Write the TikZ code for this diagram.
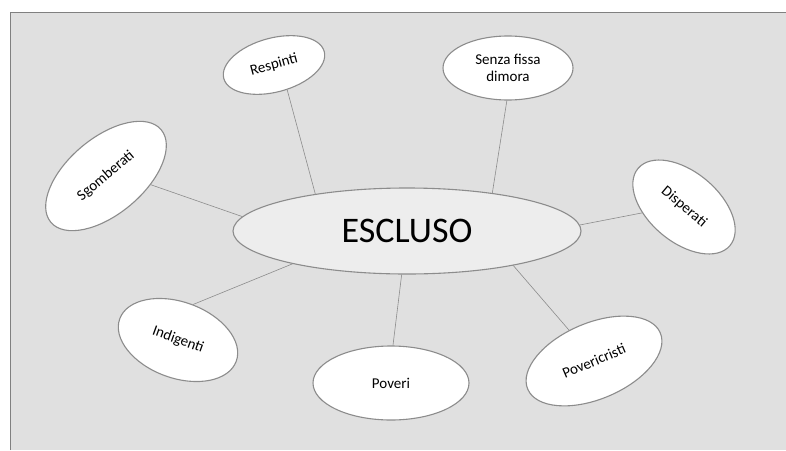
\documentclass[tikz,border=0pt]{standalone}
\usepackage{fontspec}
\setmainfont{Carlito}
\usetikzlibrary{shapes.geometric}
\tikzstyle{base} = [ellipse, draw=black!45, line width=1.1pt, inner sep=0pt, text centered, align=center, text=black]
\tikzstyle{hub} = [base, fill=black!7, minimum width=348pt, minimum height=86pt, font=\fontsize{36}{40}\selectfont]
\tikzstyle{leaf} = [base, fill=white, font=\fontsize{15}{17}\selectfont]
\tikzstyle{link} = [draw=black!45, line width=0.6pt]
\begin{document}
\begin{tikzpicture}[x=1pt, y=-1pt]

\useasboundingbox (0,0) rectangle (786,450);
\fill [black!12] (10,12) rectangle (786,450);
\draw [black!50, line width=1pt] (10,450) -- (10,12) -- (786,12);

\node (ESCLUSO) [hub] at (407,231) {ESCLUSO};
\node (RESPINTI) [leaf, minimum width=104pt, minimum height=54pt, rotate=15] at (274,65) {Respinti};
\node (SENZA_FISSA_DIMORA) [leaf, minimum width=130pt, minimum height=64pt] at (508,68) {Senza fissa\\dimora};
\node (SGOMBERATI) [leaf, minimum width=144pt, minimum height=76pt, rotate=40] at (106,176) {Sgomberati};
\node (DISPERATI) [leaf, minimum width=120pt, minimum height=70pt, rotate=-40] at (684,207) {Disperati};
\node (INDIGENTI) [leaf, minimum width=124pt, minimum height=76pt, rotate=-20] at (178,340) {Indigenti};
\node (POVERI) [leaf, minimum width=156pt, minimum height=74pt] at (391,383) {Poveri};
\node (POVERICRISTI) [leaf, minimum width=144pt, minimum height=76pt, rotate=23] at (594,361) {Povericristi};

\draw [link] (ESCLUSO.158) -- (RESPINTI.-77);
\draw [link] (ESCLUSO.24) -- (SENZA_FISSA_DIMORA.-92);
\draw [link] (ESCLUSO.175) -- (SGOMBERATI.-51);
\draw [link] (ESCLUSO.2) -- (DISPERATI.228);
\draw [link] (ESCLUSO.196) -- (INDIGENTI.87);
\draw [link] (ESCLUSO.263) -- (POVERI.87);
\draw [link] (ESCLUSO.342) -- (POVERICRISTI.106);

\end{tikzpicture}
\end{document}
